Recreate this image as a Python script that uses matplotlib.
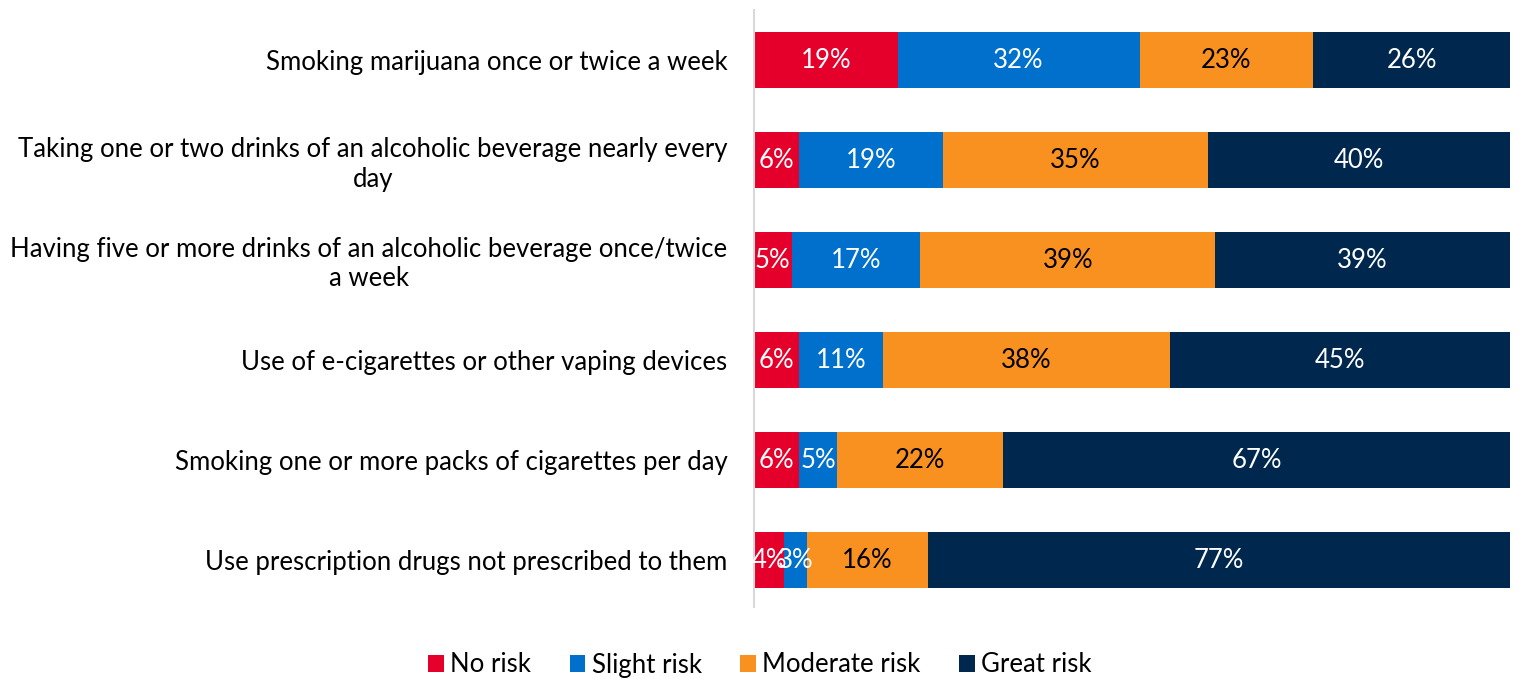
import matplotlib.pyplot as plt

# Categorias (de cima para baixo)
categories = [
    "Smoking marijuana once or twice a week",
    "Taking one or two drinks of an alcoholic beverage nearly every\nday",
    "Having five or more drinks of an alcoholic beverage once/twice\na week",
    "Use of e-cigarettes or other vaping devices",
    "Smoking one or more packs of cigarettes per day",
    "Use prescription drugs not prescribed to them",
]

no_risk = [19, 6, 5, 6, 6, 4]
slight_risk = [32, 19, 17, 11, 5, 3]
moderate_risk = [23, 35, 39, 38, 22, 16]
great_risk = [26, 40, 39, 45, 67, 77]

series_names = ["No risk", "Slight risk", "Moderate risk", "Great risk"]
colors = ["#E4002B", "#0070CD", "#F99120", "#00284F"]
text_colors = ["white", "white", "black", "white"]

plt.rcParams['font.family'] = ['Lato', 'DejaVu Sans']

fig = plt.figure(figsize=(15.19, 6.79), dpi=100)
ax = fig.add_axes([754 / 1519, 1 - 607 / 679, (1510 - 754) / 1519, (607 - 10) / 679])

y = list(range(len(categories)))
left = [0] * len(categories)
for name, vals, col, tcol in zip(series_names, [no_risk, slight_risk, moderate_risk, great_risk], colors, text_colors):
    bars = ax.barh(y, vals, left=left, height=0.56, color=col, label=name)
    ax.bar_label(bars, labels=[f"{v}%" for v in vals], label_type='center',
                 color=tcol, fontsize=18.5)
    left = [l + v for l, v in zip(left, vals)]

ax.set_xlim(0, 100)
ax.set_ylim(5.47, -0.5)
ax.set_yticks(y)
ax.set_yticklabels(categories, fontsize=18.5, multialignment='center')
ax.tick_params(axis='y', length=0, pad=19)
ax.set_xticks([])
for s in ['top', 'right', 'bottom']:
    ax.spines[s].set_visible(False)
ax.spines['left'].set_color('#D9D9D9')
ax.spines['left'].set_linewidth(1.5)

ax.legend(loc='center', bbox_to_anchor=(760 / 1519, 1 - 665 / 679), bbox_transform=fig.transFigure,
          ncol=4, frameon=False, fontsize=18.5, handlelength=0.6, handleheight=0.6,
          handletextpad=0.25, columnspacing=1.5)

fig.savefig("out.png", dpi=100)
